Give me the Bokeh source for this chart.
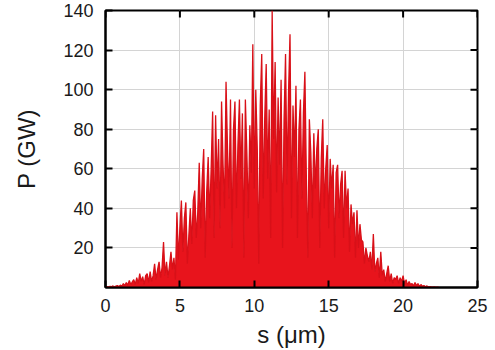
from bokeh.plotting import figure
from bokeh.models import FixedTicker, Range1d
from bokeh.embed import file_html
from bokeh.resources import INLINE
import math

# Sampling positions (um), step 0.1 from 0 to 22.4
s_start, s_step = 0.0, 0.1

# Power values (GW), 10 per micron
power = [
    0.3, 0.5, 0.2, 0.6, 0.4, 0.8, 0.3, 0.7, 1.0, 0.5,      # 0
    1.2, 0.6, 2.0, 1.0, 2.5, 1.2, 3.5, 1.5, 2.8, 4.0,      # 1
    1.5, 5.0, 2.0, 7.0, 3.0, 5.5, 1.5, 6.0, 7.0, 2.5,      # 2
    8.0, 3.0, 6.0, 12.0, 4.0, 9.0, 13.0, 5.0, 10.0, 23.0,  # 3
    6.0, 13.0, 5.0, 11.0, 18.0, 9.0, 15.0, 4.0, 38.0, 14.0,  # 4
    30.0, 44.0, 18.0, 35.0, 43.0, 12.0, 26.0, 40.0, 22.0, 44.0,  # 5
    49.0, 25.0, 38.0, 63.0, 30.0, 55.0, 70.0, 15.0, 48.0, 66.0,  # 6
    35.0, 60.0, 89.0, 25.0, 87.0, 50.0, 75.0, 30.0, 94.0, 62.0,  # 7
    40.0, 104.0, 70.0, 45.0, 95.0, 20.0, 80.0, 94.0, 40.0, 72.0,  # 8
    95.0, 55.0, 88.0, 15.0, 95.0, 68.0, 35.0, 82.0, 58.0, 123.0,  # 9
    50.0, 100.0, 70.0, 12.0, 92.0, 118.0, 45.0, 85.0, 113.0, 55.0,  # 10
    90.0, 25.0, 140.0, 75.0, 114.0, 48.0, 96.0, 62.0, 105.0, 20.0,  # 11
    85.0, 118.0, 52.0, 98.0, 128.0, 35.0, 92.0, 66.0, 102.0, 25.0,  # 12
    80.0, 95.0, 45.0, 88.0, 109.0, 55.0, 15.0, 85.0, 68.0, 35.0,  # 13
    78.0, 50.0, 70.0, 80.0, 20.0, 65.0, 85.0, 40.0, 60.0, 72.0,  # 14
    30.0, 65.0, 50.0, 62.0, 15.0, 58.0, 62.0, 35.0, 52.0, 59.0,  # 15
    25.0, 59.0, 40.0, 50.0, 18.0, 42.0, 32.0, 38.0, 15.0, 39.0,  # 16
    20.0, 32.0, 24.0, 23.0, 12.0, 20.0, 16.0, 13.0, 18.0, 9.0,  # 17
    27.0, 8.0, 12.0, 15.0, 5.0, 18.0, 6.0, 9.0, 3.0, 7.0,  # 18
    11.0, 3.0, 7.0, 2.0, 5.0, 4.0, 6.0, 2.0, 5.0, 3.0,  # 19
    6.0, 1.5, 4.0, 1.0, 3.0, 1.5, 2.0, 0.8, 2.5, 1.0,  # 20
    2.0, 0.5, 1.5, 0.6, 1.0, 0.4, 0.8, 0.3, 0.5, 0.3,  # 21
    0.2, 0.3, 0.1, 0.2, 0.0,  # 22
]
s = [round(s_start + i * s_step, 2) for i in range(len(power))]

x_ticks = [0, 5, 10, 15, 20, 25]
y_ticks = [20, 40, 60, 80, 100, 120, 140]
x_lim = (0, 25)
y_lim = (0, 140)

RED = "#e8141c"
FONT = "Liberation Sans"

p = figure(width=495, height=350, output_backend="svg", toolbar_location=None,
           x_range=Range1d(*x_lim), y_range=Range1d(*y_lim),
           x_axis_label="s (\u03bcm)", y_axis_label="P (GW)")

p.min_border_left = 105
p.min_border_right = 18
p.min_border_top = 10
p.min_border_bottom = 0
p.background_fill_color = "white"
p.border_fill_color = "white"
p.outline_line_color = "black"
p.outline_line_width = 2

p.varea(x=s, y1=[0.0] * len(s), y2=power, fill_color=RED)
p.line(x=s, y=power, line_color="#d81018", line_width=1.3)

p.xaxis.ticker = FixedTicker(ticks=x_ticks)
p.yaxis.ticker = FixedTicker(ticks=y_ticks)
p.xgrid.ticker = FixedTicker(ticks=x_ticks)
p.ygrid.ticker = FixedTicker(ticks=y_ticks)
p.grid.grid_line_color = "#d4d4d4"
p.grid.grid_line_width = 1

for ax in (p.xaxis[0], p.yaxis[0]):
    ax.axis_line_width = 2
    ax.axis_line_color = "black"
    ax.major_tick_in = 7
    ax.major_tick_out = 0
    ax.major_tick_line_width = 2
    ax.minor_tick_line_color = None
    ax.major_label_text_font = FONT
    ax.major_label_text_font_size = "18px"
    ax.major_label_text_color = "#1a1a1a"
    ax.axis_label_text_font = FONT
    ax.axis_label_text_font_size = "24px"
    ax.axis_label_text_font_style = "normal"
    ax.axis_label_text_color = "#1a1a1a"

p.xaxis.major_label_standoff = 11
p.xaxis.axis_label_standoff = 6
p.yaxis.major_label_standoff = 12
p.yaxis.axis_label_standoff = 20

# mirrored inward ticks on the top and right frame edges
p.ray(x=x_ticks, y=[y_lim[1]] * len(x_ticks), length=7, length_units="screen",
      angle=-math.pi / 2, line_color="black", line_width=2)
p.ray(x=[x_lim[1]] * len(y_ticks), y=y_ticks, length=7, length_units="screen",
      angle=math.pi, line_color="black", line_width=2)

open("out.html", "w").write(file_html(p, INLINE))
